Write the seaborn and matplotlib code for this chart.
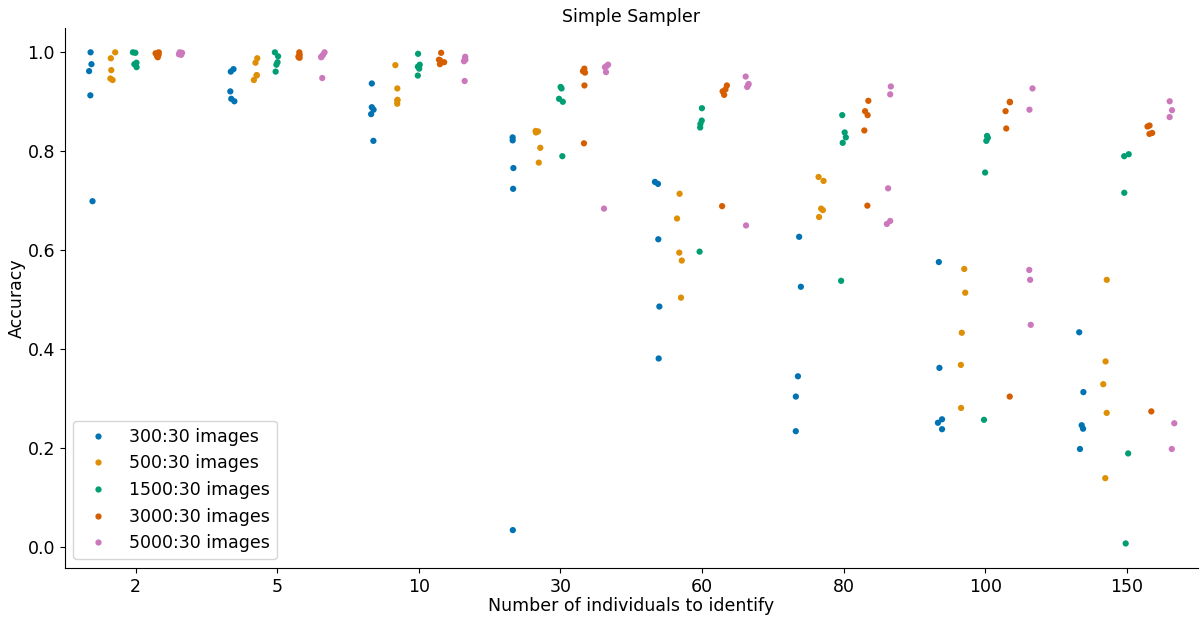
import numpy as np
import pandas as pd
import matplotlib
matplotlib.use("Agg")
import matplotlib.pyplot as plt
import seaborn as sns

categories = ["2", "5", "10", "30", "60", "80", "100", "150"]
hue_levels = ["300:30 images", "500:30 images", "1500:30 images", "3000:30 images", "5000:30 images"]

acc_300 = [
    [1.000, 0.976, 0.962, 0.913, 0.699],
    [0.966, 0.961, 0.921, 0.906, 0.901],
    [0.937, 0.889, 0.884, 0.875, 0.821],
    [0.828, 0.822, 0.766, 0.724, 0.034],
    [0.738, 0.734, 0.622, 0.486, 0.381],
    [0.627, 0.526, 0.345, 0.304, 0.234],
    [0.576, 0.362, 0.258, 0.251, 0.238],
    [0.434, 0.313, 0.246, 0.239, 0.198],
]
acc_500 = [
    [1.000, 0.988, 0.964, 0.947, 0.944],
    [0.988, 0.979, 0.954, 0.953, 0.944],
    [0.974, 0.927, 0.904, 0.902, 0.896],
    [0.841, 0.840, 0.838, 0.807, 0.777],
    [0.714, 0.664, 0.595, 0.579, 0.504],
    [0.748, 0.740, 0.684, 0.681, 0.667],
    [0.562, 0.514, 0.433, 0.368, 0.281],
    [0.540, 0.375, 0.329, 0.271, 0.139],
]
acc_1500 = [
    [1.000, 0.999, 0.979, 0.976, 0.970],
    [1.000, 0.992, 0.980, 0.975, 0.961],
    [0.997, 0.975, 0.971, 0.967, 0.953],
    [0.930, 0.927, 0.906, 0.900, 0.790],
    [0.887, 0.862, 0.855, 0.848, 0.597],
    [0.873, 0.838, 0.828, 0.817, 0.538],
    [0.831, 0.827, 0.821, 0.757, 0.257],
    [0.794, 0.790, 0.716, 0.189, 0.007],
]
acc_3000 = [
    [1.000, 0.998, 0.995, 0.993, 0.990],
    [1.000, 0.995, 0.992, 0.990, 0.989],
    [0.999, 0.985, 0.984, 0.980, 0.976],
    [0.967, 0.962, 0.959, 0.933, 0.816],
    [0.933, 0.925, 0.921, 0.914, 0.689],
    [0.902, 0.881, 0.873, 0.842, 0.690],
    [0.900, 0.899, 0.881, 0.846, 0.304],
    [0.852, 0.850, 0.837, 0.835, 0.274],
]
acc_5000 = [
    [1.000, 0.999, 0.998, 0.996, 0.995],
    [1.000, 0.995, 0.991, 0.990, 0.948],
    [0.991, 0.987, 0.985, 0.982, 0.942],
    [0.975, 0.972, 0.970, 0.960, 0.684],
    [0.951, 0.936, 0.934, 0.930, 0.650],
    [0.931, 0.915, 0.725, 0.659, 0.653],
    [0.927, 0.884, 0.560, 0.540, 0.449],
    [0.901, 0.883, 0.869, 0.250, 0.198],
]

series = [acc_300, acc_500, acc_1500, acc_3000, acc_5000]
rows = []
for level, data in zip(hue_levels, series):
    for cat, vals in zip(categories, data):
        for v in vals:
            rows.append({"n": cat, "Accuracy": v, "images": level})
df = pd.DataFrame(rows)

plt.rcParams["font.family"] = ["DejaVu Sans"]

fig, ax = plt.subplots(figsize=(12, 6.17), dpi=100)
np.random.seed(3)
sns.stripplot(data=df, x="n", y="Accuracy", hue="images", order=categories,
              hue_order=hue_levels, dodge=True, palette="colorblind",
              size=4.5, jitter=True, ax=ax)
sns.despine(ax=ax)
ax.set_title("Simple Sampler", fontsize=12.5, pad=4)
ax.set_xlabel("Number of individuals to identify", fontsize=12.5, labelpad=1)
ax.set_ylabel("Accuracy", fontsize=12.5, labelpad=1)
ax.tick_params(labelsize=12.5)
ax.set_yticks([0.0, 0.2, 0.4, 0.6, 0.8, 1.0])
ax.legend(loc="lower left", fontsize=12.5, markerscale=1.0)
fig.subplots_adjust(left=0.054, right=0.998, top=0.955, bottom=0.0794)
fig.savefig("out.png", dpi=100)
